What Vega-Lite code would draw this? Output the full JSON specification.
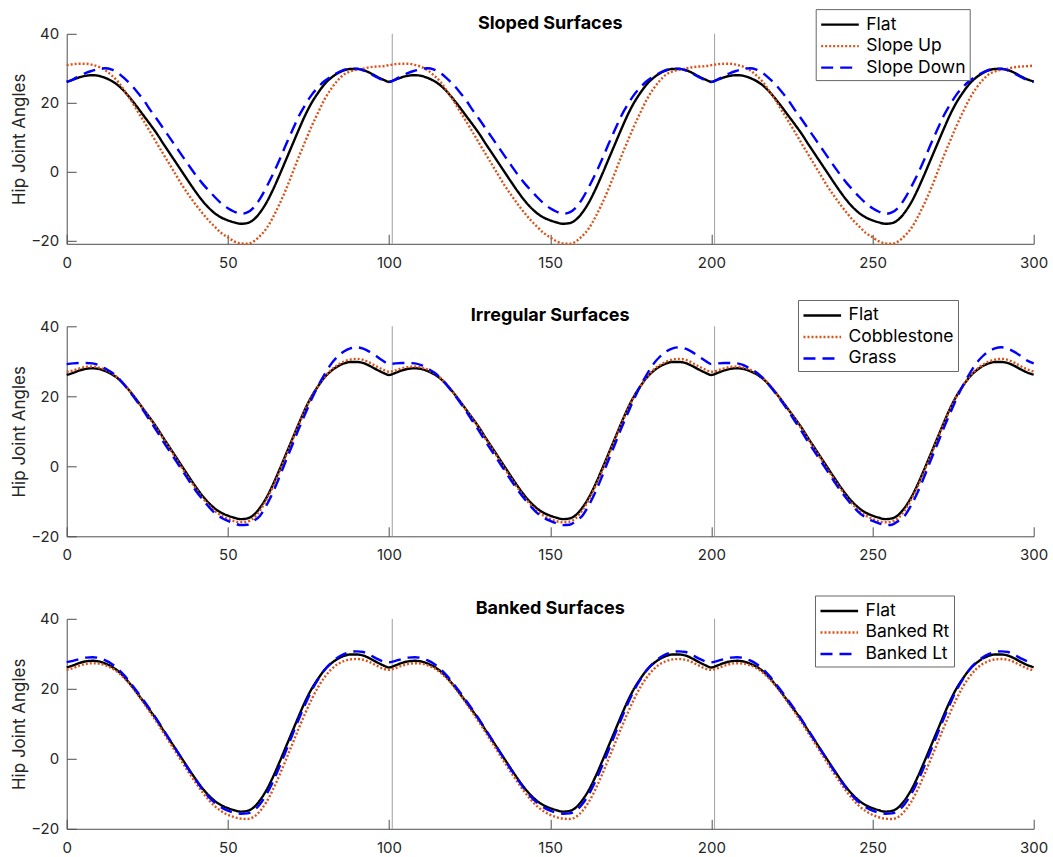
{
"$schema": "https://vega.github.io/schema/vega-lite/v6.json",
"padding": {"left": 10.7, "top": 7.8, "right": 5, "bottom": 5},
"bounds": "flush",
"spacing": 82.5,
"config": {
  "font": "Inter",
  "view": {"stroke": null},
  "axis": {"domainColor": "#4d4d4d", "tickColor": "#4d4d4d", "tickSize": -9.5, "labelFontSize": 15, "labelColor": "#262626", "grid": false, "labelFlush": false, "titleFontSize": 17, "titleFontWeight": "normal", "titleColor": "#262626", "domainWidth": 1, "tickWidth": 1},
  "axisX": {"labelPadding": 21},
  "axisY": {"labelPadding": 17.5, "titleX": -38, "titleBaseline": "bottom"},
  "title": {"fontSize": 18, "fontWeight": "bold", "color": "black", "anchor": "middle", "frame": "group"},
  "legend": {"orient": "none", "symbolType": "M-1.9,0H1.9", "symbolSize": 392, "symbolStrokeWidth": 2, "symbolOffset": 8.8, "labelFontSize": 17.5, "labelColor": "black", "padding": 4, "rowPadding": 1.5, "strokeColor": "#666666", "fillColor": "white", "labelOffset": 14.8, "cornerRadius": 0},
  "line": {"strokeWidth": 2.4, "strokeCap": "butt", "interpolate": "monotone"}
},
"resolve": {"scale": {"color": "independent", "strokeDash": "independent"}, "legend": {"color": "independent", "strokeDash": "independent"}},
"datasets": {
"sloped": [
{"x":0,"Flat":26.1,"Slope Up":30.9,"Slope Down":26.0},
{"x":2,"Flat":26.7,"Slope Up":31.2,"Slope Down":26.8},
{"x":4,"Flat":27.4,"Slope Up":31.3,"Slope Down":27.8},
{"x":6,"Flat":27.85,"Slope Up":31.3,"Slope Down":28.7},
{"x":8,"Flat":28.0,"Slope Up":31.0,"Slope Down":29.3},
{"x":10,"Flat":27.8,"Slope Up":30.4,"Slope Down":29.8},
{"x":12,"Flat":27.2,"Slope Up":29.4,"Slope Down":30.0},
{"x":14,"Flat":26.3,"Slope Up":27.9,"Slope Down":29.6},
{"x":16,"Flat":25.0,"Slope Up":26.0,"Slope Down":28.6},
{"x":18,"Flat":23.2,"Slope Up":23.4,"Slope Down":27.0},
{"x":20,"Flat":21.0,"Slope Up":20.6,"Slope Down":25.2},
{"x":22,"Flat":18.6,"Slope Up":17.5,"Slope Down":23.0},
{"x":24,"Flat":16.1,"Slope Up":14.5,"Slope Down":20.6},
{"x":26,"Flat":13.6,"Slope Up":11.4,"Slope Down":17.8},
{"x":28,"Flat":11.0,"Slope Up":8.2,"Slope Down":15.2},
{"x":30,"Flat":8.1,"Slope Up":5.1,"Slope Down":12.5},
{"x":32,"Flat":5.3,"Slope Up":2.0,"Slope Down":9.8},
{"x":34,"Flat":2.5,"Slope Up":-1.1,"Slope Down":7.1},
{"x":36,"Flat":-0.3,"Slope Up":-4.2,"Slope Down":4.4},
{"x":38,"Flat":-3.1,"Slope Up":-6.9,"Slope Down":1.7},
{"x":40,"Flat":-5.8,"Slope Up":-9.5,"Slope Down":-0.9},
{"x":42,"Flat":-8.3,"Slope Up":-11.9,"Slope Down":-3.3},
{"x":44,"Flat":-10.4,"Slope Up":-14.1,"Slope Down":-5.4},
{"x":46,"Flat":-12.1,"Slope Up":-16.0,"Slope Down":-7.4},
{"x":48,"Flat":-13.3,"Slope Up":-17.8,"Slope Down":-9.2},
{"x":50,"Flat":-14.1,"Slope Up":-19.0,"Slope Down":-10.6},
{"x":52,"Flat":-14.7,"Slope Up":-20.2,"Slope Down":-11.6},
{"x":54,"Flat":-15.1,"Slope Up":-20.8,"Slope Down":-12.2},
{"x":56,"Flat":-14.9,"Slope Up":-20.9,"Slope Down":-11.8},
{"x":58,"Flat":-13.9,"Slope Up":-20.2,"Slope Down":-10.4},
{"x":60,"Flat":-11.8,"Slope Up":-18.6,"Slope Down":-7.8},
{"x":62,"Flat":-8.9,"Slope Up":-16.4,"Slope Down":-4.4},
{"x":64,"Flat":-5.2,"Slope Up":-13.2,"Slope Down":-0.7},
{"x":66,"Flat":-1.0,"Slope Up":-9.4,"Slope Down":3.4},
{"x":68,"Flat":3.4,"Slope Up":-5.2,"Slope Down":7.8},
{"x":70,"Flat":7.8,"Slope Up":-0.5,"Slope Down":12.0},
{"x":72,"Flat":12.2,"Slope Up":4.3,"Slope Down":16.1},
{"x":74,"Flat":16.4,"Slope Up":8.8,"Slope Down":19.4},
{"x":76,"Flat":20.0,"Slope Up":13.2,"Slope Down":22.3},
{"x":78,"Flat":22.9,"Slope Up":17.2,"Slope Down":24.5},
{"x":80,"Flat":25.4,"Slope Up":21.0,"Slope Down":26.3},
{"x":82,"Flat":27.2,"Slope Up":24.0,"Slope Down":27.6},
{"x":84,"Flat":28.5,"Slope Up":26.4,"Slope Down":28.7},
{"x":86,"Flat":29.4,"Slope Up":28.2,"Slope Down":29.5},
{"x":88,"Flat":29.8,"Slope Up":29.1,"Slope Down":29.9},
{"x":90,"Flat":29.8,"Slope Up":29.6,"Slope Down":29.9},
{"x":92,"Flat":29.5,"Slope Up":29.9,"Slope Down":29.4},
{"x":94,"Flat":28.7,"Slope Up":30.3,"Slope Down":28.5},
{"x":96,"Flat":27.7,"Slope Up":30.5,"Slope Down":27.5},
{"x":98,"Flat":26.8,"Slope Up":30.6,"Slope Down":26.6},
{"x":100,"Flat":26.1,"Slope Up":30.9,"Slope Down":26.0},
{"x":102,"Flat":26.7,"Slope Up":31.2,"Slope Down":26.8},
{"x":104,"Flat":27.4,"Slope Up":31.3,"Slope Down":27.8},
{"x":106,"Flat":27.85,"Slope Up":31.3,"Slope Down":28.7},
{"x":108,"Flat":28.0,"Slope Up":31.0,"Slope Down":29.3},
{"x":110,"Flat":27.8,"Slope Up":30.4,"Slope Down":29.8},
{"x":112,"Flat":27.2,"Slope Up":29.4,"Slope Down":30.0},
{"x":114,"Flat":26.3,"Slope Up":27.9,"Slope Down":29.6},
{"x":116,"Flat":25.0,"Slope Up":26.0,"Slope Down":28.6},
{"x":118,"Flat":23.2,"Slope Up":23.4,"Slope Down":27.0},
{"x":120,"Flat":21.0,"Slope Up":20.6,"Slope Down":25.2},
{"x":122,"Flat":18.6,"Slope Up":17.5,"Slope Down":23.0},
{"x":124,"Flat":16.1,"Slope Up":14.5,"Slope Down":20.6},
{"x":126,"Flat":13.6,"Slope Up":11.4,"Slope Down":17.8},
{"x":128,"Flat":11.0,"Slope Up":8.2,"Slope Down":15.2},
{"x":130,"Flat":8.1,"Slope Up":5.1,"Slope Down":12.5},
{"x":132,"Flat":5.3,"Slope Up":2.0,"Slope Down":9.8},
{"x":134,"Flat":2.5,"Slope Up":-1.1,"Slope Down":7.1},
{"x":136,"Flat":-0.3,"Slope Up":-4.2,"Slope Down":4.4},
{"x":138,"Flat":-3.1,"Slope Up":-6.9,"Slope Down":1.7},
{"x":140,"Flat":-5.8,"Slope Up":-9.5,"Slope Down":-0.9},
{"x":142,"Flat":-8.3,"Slope Up":-11.9,"Slope Down":-3.3},
{"x":144,"Flat":-10.4,"Slope Up":-14.1,"Slope Down":-5.4},
{"x":146,"Flat":-12.1,"Slope Up":-16.0,"Slope Down":-7.4},
{"x":148,"Flat":-13.3,"Slope Up":-17.8,"Slope Down":-9.2},
{"x":150,"Flat":-14.1,"Slope Up":-19.0,"Slope Down":-10.6},
{"x":152,"Flat":-14.7,"Slope Up":-20.2,"Slope Down":-11.6},
{"x":154,"Flat":-15.1,"Slope Up":-20.8,"Slope Down":-12.2},
{"x":156,"Flat":-14.9,"Slope Up":-20.9,"Slope Down":-11.8},
{"x":158,"Flat":-13.9,"Slope Up":-20.2,"Slope Down":-10.4},
{"x":160,"Flat":-11.8,"Slope Up":-18.6,"Slope Down":-7.8},
{"x":162,"Flat":-8.9,"Slope Up":-16.4,"Slope Down":-4.4},
{"x":164,"Flat":-5.2,"Slope Up":-13.2,"Slope Down":-0.7},
{"x":166,"Flat":-1.0,"Slope Up":-9.4,"Slope Down":3.4},
{"x":168,"Flat":3.4,"Slope Up":-5.2,"Slope Down":7.8},
{"x":170,"Flat":7.8,"Slope Up":-0.5,"Slope Down":12.0},
{"x":172,"Flat":12.2,"Slope Up":4.3,"Slope Down":16.1},
{"x":174,"Flat":16.4,"Slope Up":8.8,"Slope Down":19.4},
{"x":176,"Flat":20.0,"Slope Up":13.2,"Slope Down":22.3},
{"x":178,"Flat":22.9,"Slope Up":17.2,"Slope Down":24.5},
{"x":180,"Flat":25.4,"Slope Up":21.0,"Slope Down":26.3},
{"x":182,"Flat":27.2,"Slope Up":24.0,"Slope Down":27.6},
{"x":184,"Flat":28.5,"Slope Up":26.4,"Slope Down":28.7},
{"x":186,"Flat":29.4,"Slope Up":28.2,"Slope Down":29.5},
{"x":188,"Flat":29.8,"Slope Up":29.1,"Slope Down":29.9},
{"x":190,"Flat":29.8,"Slope Up":29.6,"Slope Down":29.9},
{"x":192,"Flat":29.5,"Slope Up":29.9,"Slope Down":29.4},
{"x":194,"Flat":28.7,"Slope Up":30.3,"Slope Down":28.5},
{"x":196,"Flat":27.7,"Slope Up":30.5,"Slope Down":27.5},
{"x":198,"Flat":26.8,"Slope Up":30.6,"Slope Down":26.6},
{"x":200,"Flat":26.1,"Slope Up":30.9,"Slope Down":26.0},
{"x":202,"Flat":26.7,"Slope Up":31.2,"Slope Down":26.8},
{"x":204,"Flat":27.4,"Slope Up":31.3,"Slope Down":27.8},
{"x":206,"Flat":27.85,"Slope Up":31.3,"Slope Down":28.7},
{"x":208,"Flat":28.0,"Slope Up":31.0,"Slope Down":29.3},
{"x":210,"Flat":27.8,"Slope Up":30.4,"Slope Down":29.8},
{"x":212,"Flat":27.2,"Slope Up":29.4,"Slope Down":30.0},
{"x":214,"Flat":26.3,"Slope Up":27.9,"Slope Down":29.6},
{"x":216,"Flat":25.0,"Slope Up":26.0,"Slope Down":28.6},
{"x":218,"Flat":23.2,"Slope Up":23.4,"Slope Down":27.0},
{"x":220,"Flat":21.0,"Slope Up":20.6,"Slope Down":25.2},
{"x":222,"Flat":18.6,"Slope Up":17.5,"Slope Down":23.0},
{"x":224,"Flat":16.1,"Slope Up":14.5,"Slope Down":20.6},
{"x":226,"Flat":13.6,"Slope Up":11.4,"Slope Down":17.8},
{"x":228,"Flat":11.0,"Slope Up":8.2,"Slope Down":15.2},
{"x":230,"Flat":8.1,"Slope Up":5.1,"Slope Down":12.5},
{"x":232,"Flat":5.3,"Slope Up":2.0,"Slope Down":9.8},
{"x":234,"Flat":2.5,"Slope Up":-1.1,"Slope Down":7.1},
{"x":236,"Flat":-0.3,"Slope Up":-4.2,"Slope Down":4.4},
{"x":238,"Flat":-3.1,"Slope Up":-6.9,"Slope Down":1.7},
{"x":240,"Flat":-5.8,"Slope Up":-9.5,"Slope Down":-0.9},
{"x":242,"Flat":-8.3,"Slope Up":-11.9,"Slope Down":-3.3},
{"x":244,"Flat":-10.4,"Slope Up":-14.1,"Slope Down":-5.4},
{"x":246,"Flat":-12.1,"Slope Up":-16.0,"Slope Down":-7.4},
{"x":248,"Flat":-13.3,"Slope Up":-17.8,"Slope Down":-9.2},
{"x":250,"Flat":-14.1,"Slope Up":-19.0,"Slope Down":-10.6},
{"x":252,"Flat":-14.7,"Slope Up":-20.2,"Slope Down":-11.6},
{"x":254,"Flat":-15.1,"Slope Up":-20.8,"Slope Down":-12.2},
{"x":256,"Flat":-14.9,"Slope Up":-20.9,"Slope Down":-11.8},
{"x":258,"Flat":-13.9,"Slope Up":-20.2,"Slope Down":-10.4},
{"x":260,"Flat":-11.8,"Slope Up":-18.6,"Slope Down":-7.8},
{"x":262,"Flat":-8.9,"Slope Up":-16.4,"Slope Down":-4.4},
{"x":264,"Flat":-5.2,"Slope Up":-13.2,"Slope Down":-0.7},
{"x":266,"Flat":-1.0,"Slope Up":-9.4,"Slope Down":3.4},
{"x":268,"Flat":3.4,"Slope Up":-5.2,"Slope Down":7.8},
{"x":270,"Flat":7.8,"Slope Up":-0.5,"Slope Down":12.0},
{"x":272,"Flat":12.2,"Slope Up":4.3,"Slope Down":16.1},
{"x":274,"Flat":16.4,"Slope Up":8.8,"Slope Down":19.4},
{"x":276,"Flat":20.0,"Slope Up":13.2,"Slope Down":22.3},
{"x":278,"Flat":22.9,"Slope Up":17.2,"Slope Down":24.5},
{"x":280,"Flat":25.4,"Slope Up":21.0,"Slope Down":26.3},
{"x":282,"Flat":27.2,"Slope Up":24.0,"Slope Down":27.6},
{"x":284,"Flat":28.5,"Slope Up":26.4,"Slope Down":28.7},
{"x":286,"Flat":29.4,"Slope Up":28.2,"Slope Down":29.5},
{"x":288,"Flat":29.8,"Slope Up":29.1,"Slope Down":29.9},
{"x":290,"Flat":29.8,"Slope Up":29.6,"Slope Down":29.9},
{"x":292,"Flat":29.5,"Slope Up":29.9,"Slope Down":29.4},
{"x":294,"Flat":28.7,"Slope Up":30.3,"Slope Down":28.5},
{"x":296,"Flat":27.7,"Slope Up":30.5,"Slope Down":27.5},
{"x":298,"Flat":26.8,"Slope Up":30.6,"Slope Down":26.6},
{"x":300,"Flat":26.2,"Slope Up":30.8,"Slope Down":26.0}
],
"irregular": [
{"x":0,"Flat":26.1,"Cobblestone":27.0,"Grass":29.2},
{"x":2,"Flat":26.7,"Cobblestone":27.4,"Grass":29.4},
{"x":4,"Flat":27.4,"Cobblestone":28.0,"Grass":29.5},
{"x":6,"Flat":27.85,"Cobblestone":28.4,"Grass":29.5},
{"x":8,"Flat":28.0,"Cobblestone":28.5,"Grass":29.4},
{"x":10,"Flat":27.8,"Cobblestone":28.2,"Grass":28.9},
{"x":12,"Flat":27.2,"Cobblestone":27.6,"Grass":27.9},
{"x":14,"Flat":26.3,"Cobblestone":26.6,"Grass":26.8},
{"x":16,"Flat":25.0,"Cobblestone":25.2,"Grass":25.2},
{"x":18,"Flat":23.2,"Cobblestone":23.3,"Grass":23.1},
{"x":20,"Flat":21.0,"Cobblestone":21.0,"Grass":20.8},
{"x":22,"Flat":18.6,"Cobblestone":18.6,"Grass":18.3},
{"x":24,"Flat":16.1,"Cobblestone":16.0,"Grass":15.6},
{"x":26,"Flat":13.6,"Cobblestone":13.4,"Grass":12.8},
{"x":28,"Flat":11.0,"Cobblestone":10.7,"Grass":10.0},
{"x":30,"Flat":8.1,"Cobblestone":7.8,"Grass":7.0},
{"x":32,"Flat":5.3,"Cobblestone":5.0,"Grass":4.2},
{"x":34,"Flat":2.5,"Cobblestone":2.1,"Grass":1.4},
{"x":36,"Flat":-0.3,"Cobblestone":-0.8,"Grass":-1.4},
{"x":38,"Flat":-3.1,"Cobblestone":-3.6,"Grass":-4.2},
{"x":40,"Flat":-5.8,"Cobblestone":-6.3,"Grass":-6.9},
{"x":42,"Flat":-8.3,"Cobblestone":-8.9,"Grass":-9.3},
{"x":44,"Flat":-10.4,"Cobblestone":-11.0,"Grass":-11.5},
{"x":46,"Flat":-12.1,"Cobblestone":-12.8,"Grass":-13.4},
{"x":48,"Flat":-13.3,"Cobblestone":-14.1,"Grass":-14.7},
{"x":50,"Flat":-14.1,"Cobblestone":-15.0,"Grass":-15.6},
{"x":52,"Flat":-14.7,"Cobblestone":-15.7,"Grass":-16.3},
{"x":54,"Flat":-15.1,"Cobblestone":-16.0,"Grass":-16.8},
{"x":56,"Flat":-14.9,"Cobblestone":-15.8,"Grass":-16.7},
{"x":58,"Flat":-13.9,"Cobblestone":-14.8,"Grass":-15.6},
{"x":60,"Flat":-11.8,"Cobblestone":-12.6,"Grass":-14.1},
{"x":62,"Flat":-8.9,"Cobblestone":-9.5,"Grass":-11.1},
{"x":64,"Flat":-5.2,"Cobblestone":-5.8,"Grass":-7.4},
{"x":66,"Flat":-1.0,"Cobblestone":-1.6,"Grass":-3.1},
{"x":68,"Flat":3.4,"Cobblestone":2.9,"Grass":1.6},
{"x":70,"Flat":7.8,"Cobblestone":7.4,"Grass":6.1},
{"x":72,"Flat":12.2,"Cobblestone":11.9,"Grass":10.7},
{"x":74,"Flat":16.4,"Cobblestone":16.1,"Grass":15.0},
{"x":76,"Flat":20.0,"Cobblestone":19.8,"Grass":19.2},
{"x":78,"Flat":22.9,"Cobblestone":22.9,"Grass":23.0},
{"x":80,"Flat":25.4,"Cobblestone":25.5,"Grass":26.3},
{"x":82,"Flat":27.2,"Cobblestone":27.5,"Grass":29.2},
{"x":84,"Flat":28.5,"Cobblestone":28.9,"Grass":31.3},
{"x":86,"Flat":29.4,"Cobblestone":29.9,"Grass":32.8},
{"x":88,"Flat":29.8,"Cobblestone":30.5,"Grass":33.7},
{"x":90,"Flat":29.8,"Cobblestone":30.7,"Grass":34.0},
{"x":92,"Flat":29.5,"Cobblestone":30.4,"Grass":33.6},
{"x":94,"Flat":28.7,"Cobblestone":29.6,"Grass":32.7},
{"x":96,"Flat":27.7,"Cobblestone":28.6,"Grass":31.5},
{"x":98,"Flat":26.8,"Cobblestone":27.7,"Grass":30.2},
{"x":100,"Flat":26.1,"Cobblestone":27.0,"Grass":29.2},
{"x":102,"Flat":26.7,"Cobblestone":27.4,"Grass":29.4},
{"x":104,"Flat":27.4,"Cobblestone":28.0,"Grass":29.5},
{"x":106,"Flat":27.85,"Cobblestone":28.4,"Grass":29.5},
{"x":108,"Flat":28.0,"Cobblestone":28.5,"Grass":29.4},
{"x":110,"Flat":27.8,"Cobblestone":28.2,"Grass":28.9},
{"x":112,"Flat":27.2,"Cobblestone":27.6,"Grass":27.9},
{"x":114,"Flat":26.3,"Cobblestone":26.6,"Grass":26.8},
{"x":116,"Flat":25.0,"Cobblestone":25.2,"Grass":25.2},
{"x":118,"Flat":23.2,"Cobblestone":23.3,"Grass":23.1},
{"x":120,"Flat":21.0,"Cobblestone":21.0,"Grass":20.8},
{"x":122,"Flat":18.6,"Cobblestone":18.6,"Grass":18.3},
{"x":124,"Flat":16.1,"Cobblestone":16.0,"Grass":15.6},
{"x":126,"Flat":13.6,"Cobblestone":13.4,"Grass":12.8},
{"x":128,"Flat":11.0,"Cobblestone":10.7,"Grass":10.0},
{"x":130,"Flat":8.1,"Cobblestone":7.8,"Grass":7.0},
{"x":132,"Flat":5.3,"Cobblestone":5.0,"Grass":4.2},
{"x":134,"Flat":2.5,"Cobblestone":2.1,"Grass":1.4},
{"x":136,"Flat":-0.3,"Cobblestone":-0.8,"Grass":-1.4},
{"x":138,"Flat":-3.1,"Cobblestone":-3.6,"Grass":-4.2},
{"x":140,"Flat":-5.8,"Cobblestone":-6.3,"Grass":-6.9},
{"x":142,"Flat":-8.3,"Cobblestone":-8.9,"Grass":-9.3},
{"x":144,"Flat":-10.4,"Cobblestone":-11.0,"Grass":-11.5},
{"x":146,"Flat":-12.1,"Cobblestone":-12.8,"Grass":-13.4},
{"x":148,"Flat":-13.3,"Cobblestone":-14.1,"Grass":-14.7},
{"x":150,"Flat":-14.1,"Cobblestone":-15.0,"Grass":-15.6},
{"x":152,"Flat":-14.7,"Cobblestone":-15.7,"Grass":-16.3},
{"x":154,"Flat":-15.1,"Cobblestone":-16.0,"Grass":-16.8},
{"x":156,"Flat":-14.9,"Cobblestone":-15.8,"Grass":-16.7},
{"x":158,"Flat":-13.9,"Cobblestone":-14.8,"Grass":-15.6},
{"x":160,"Flat":-11.8,"Cobblestone":-12.6,"Grass":-14.1},
{"x":162,"Flat":-8.9,"Cobblestone":-9.5,"Grass":-11.1},
{"x":164,"Flat":-5.2,"Cobblestone":-5.8,"Grass":-7.4},
{"x":166,"Flat":-1.0,"Cobblestone":-1.6,"Grass":-3.1},
{"x":168,"Flat":3.4,"Cobblestone":2.9,"Grass":1.6},
{"x":170,"Flat":7.8,"Cobblestone":7.4,"Grass":6.1},
{"x":172,"Flat":12.2,"Cobblestone":11.9,"Grass":10.7},
{"x":174,"Flat":16.4,"Cobblestone":16.1,"Grass":15.0},
{"x":176,"Flat":20.0,"Cobblestone":19.8,"Grass":19.2},
{"x":178,"Flat":22.9,"Cobblestone":22.9,"Grass":23.0},
{"x":180,"Flat":25.4,"Cobblestone":25.5,"Grass":26.3},
{"x":182,"Flat":27.2,"Cobblestone":27.5,"Grass":29.2},
{"x":184,"Flat":28.5,"Cobblestone":28.9,"Grass":31.3},
{"x":186,"Flat":29.4,"Cobblestone":29.9,"Grass":32.8},
{"x":188,"Flat":29.8,"Cobblestone":30.5,"Grass":33.7},
{"x":190,"Flat":29.8,"Cobblestone":30.7,"Grass":34.0},
{"x":192,"Flat":29.5,"Cobblestone":30.4,"Grass":33.6},
{"x":194,"Flat":28.7,"Cobblestone":29.6,"Grass":32.7},
{"x":196,"Flat":27.7,"Cobblestone":28.6,"Grass":31.5},
{"x":198,"Flat":26.8,"Cobblestone":27.7,"Grass":30.2},
{"x":200,"Flat":26.1,"Cobblestone":27.0,"Grass":29.2},
{"x":202,"Flat":26.7,"Cobblestone":27.4,"Grass":29.4},
{"x":204,"Flat":27.4,"Cobblestone":28.0,"Grass":29.5},
{"x":206,"Flat":27.85,"Cobblestone":28.4,"Grass":29.5},
{"x":208,"Flat":28.0,"Cobblestone":28.5,"Grass":29.4},
{"x":210,"Flat":27.8,"Cobblestone":28.2,"Grass":28.9},
{"x":212,"Flat":27.2,"Cobblestone":27.6,"Grass":27.9},
{"x":214,"Flat":26.3,"Cobblestone":26.6,"Grass":26.8},
{"x":216,"Flat":25.0,"Cobblestone":25.2,"Grass":25.2},
{"x":218,"Flat":23.2,"Cobblestone":23.3,"Grass":23.1},
{"x":220,"Flat":21.0,"Cobblestone":21.0,"Grass":20.8},
{"x":222,"Flat":18.6,"Cobblestone":18.6,"Grass":18.3},
{"x":224,"Flat":16.1,"Cobblestone":16.0,"Grass":15.6},
{"x":226,"Flat":13.6,"Cobblestone":13.4,"Grass":12.8},
{"x":228,"Flat":11.0,"Cobblestone":10.7,"Grass":10.0},
{"x":230,"Flat":8.1,"Cobblestone":7.8,"Grass":7.0},
{"x":232,"Flat":5.3,"Cobblestone":5.0,"Grass":4.2},
{"x":234,"Flat":2.5,"Cobblestone":2.1,"Grass":1.4},
{"x":236,"Flat":-0.3,"Cobblestone":-0.8,"Grass":-1.4},
{"x":238,"Flat":-3.1,"Cobblestone":-3.6,"Grass":-4.2},
{"x":240,"Flat":-5.8,"Cobblestone":-6.3,"Grass":-6.9},
{"x":242,"Flat":-8.3,"Cobblestone":-8.9,"Grass":-9.3},
{"x":244,"Flat":-10.4,"Cobblestone":-11.0,"Grass":-11.5},
{"x":246,"Flat":-12.1,"Cobblestone":-12.8,"Grass":-13.4},
{"x":248,"Flat":-13.3,"Cobblestone":-14.1,"Grass":-14.7},
{"x":250,"Flat":-14.1,"Cobblestone":-15.0,"Grass":-15.6},
{"x":252,"Flat":-14.7,"Cobblestone":-15.7,"Grass":-16.3},
{"x":254,"Flat":-15.1,"Cobblestone":-16.0,"Grass":-16.8},
{"x":256,"Flat":-14.9,"Cobblestone":-15.8,"Grass":-16.7},
{"x":258,"Flat":-13.9,"Cobblestone":-14.8,"Grass":-15.6},
{"x":260,"Flat":-11.8,"Cobblestone":-12.6,"Grass":-14.1},
{"x":262,"Flat":-8.9,"Cobblestone":-9.5,"Grass":-11.1},
{"x":264,"Flat":-5.2,"Cobblestone":-5.8,"Grass":-7.4},
{"x":266,"Flat":-1.0,"Cobblestone":-1.6,"Grass":-3.1},
{"x":268,"Flat":3.4,"Cobblestone":2.9,"Grass":1.6},
{"x":270,"Flat":7.8,"Cobblestone":7.4,"Grass":6.1},
{"x":272,"Flat":12.2,"Cobblestone":11.9,"Grass":10.7},
{"x":274,"Flat":16.4,"Cobblestone":16.1,"Grass":15.0},
{"x":276,"Flat":20.0,"Cobblestone":19.8,"Grass":19.2},
{"x":278,"Flat":22.9,"Cobblestone":22.9,"Grass":23.0},
{"x":280,"Flat":25.4,"Cobblestone":25.5,"Grass":26.3},
{"x":282,"Flat":27.2,"Cobblestone":27.5,"Grass":29.2},
{"x":284,"Flat":28.5,"Cobblestone":28.9,"Grass":31.3},
{"x":286,"Flat":29.4,"Cobblestone":29.9,"Grass":32.8},
{"x":288,"Flat":29.8,"Cobblestone":30.5,"Grass":33.7},
{"x":290,"Flat":29.8,"Cobblestone":30.7,"Grass":34.0},
{"x":292,"Flat":29.5,"Cobblestone":30.4,"Grass":33.6},
{"x":294,"Flat":28.7,"Cobblestone":29.6,"Grass":32.7},
{"x":296,"Flat":27.7,"Cobblestone":28.6,"Grass":31.5},
{"x":298,"Flat":26.8,"Cobblestone":27.7,"Grass":30.2},
{"x":300,"Flat":26.2,"Cobblestone":27.1,"Grass":29.4}
],
"banked": [
{"x":0,"Flat":26.1,"Banked Rt":25.4,"Banked Lt":27.6},
{"x":2,"Flat":26.7,"Banked Rt":25.9,"Banked Lt":28.0},
{"x":4,"Flat":27.4,"Banked Rt":26.6,"Banked Lt":28.5},
{"x":6,"Flat":27.85,"Banked Rt":27.1,"Banked Lt":28.9},
{"x":8,"Flat":28.0,"Banked Rt":27.3,"Banked Lt":29.0},
{"x":10,"Flat":27.8,"Banked Rt":27.2,"Banked Lt":28.8},
{"x":12,"Flat":27.2,"Banked Rt":26.7,"Banked Lt":28.1},
{"x":14,"Flat":26.3,"Banked Rt":25.9,"Banked Lt":27.1},
{"x":16,"Flat":25.0,"Banked Rt":24.6,"Banked Lt":25.6},
{"x":18,"Flat":23.2,"Banked Rt":22.9,"Banked Lt":23.7},
{"x":20,"Flat":21.0,"Banked Rt":20.8,"Banked Lt":21.4},
{"x":22,"Flat":18.6,"Banked Rt":18.4,"Banked Lt":19.0},
{"x":24,"Flat":16.1,"Banked Rt":15.8,"Banked Lt":16.5},
{"x":26,"Flat":13.6,"Banked Rt":13.1,"Banked Lt":13.9},
{"x":28,"Flat":11.0,"Banked Rt":10.4,"Banked Lt":11.2},
{"x":30,"Flat":8.1,"Banked Rt":7.5,"Banked Lt":8.3},
{"x":32,"Flat":5.3,"Banked Rt":4.6,"Banked Lt":5.4},
{"x":34,"Flat":2.5,"Banked Rt":1.7,"Banked Lt":2.5},
{"x":36,"Flat":-0.3,"Banked Rt":-1.2,"Banked Lt":-0.4},
{"x":38,"Flat":-3.1,"Banked Rt":-4.1,"Banked Lt":-3.3},
{"x":40,"Flat":-5.8,"Banked Rt":-6.8,"Banked Lt":-6.0},
{"x":42,"Flat":-8.3,"Banked Rt":-9.4,"Banked Lt":-8.6},
{"x":44,"Flat":-10.4,"Banked Rt":-11.7,"Banked Lt":-10.8},
{"x":46,"Flat":-12.1,"Banked Rt":-13.6,"Banked Lt":-12.6},
{"x":48,"Flat":-13.3,"Banked Rt":-15.0,"Banked Lt":-13.9},
{"x":50,"Flat":-14.1,"Banked Rt":-16.0,"Banked Lt":-14.8},
{"x":52,"Flat":-14.7,"Banked Rt":-16.7,"Banked Lt":-15.4},
{"x":54,"Flat":-15.1,"Banked Rt":-17.1,"Banked Lt":-15.7},
{"x":56,"Flat":-14.9,"Banked Rt":-17.2,"Banked Lt":-15.6},
{"x":58,"Flat":-13.9,"Banked Rt":-16.6,"Banked Lt":-14.8},
{"x":60,"Flat":-11.8,"Banked Rt":-14.9,"Banked Lt":-12.9},
{"x":62,"Flat":-8.9,"Banked Rt":-12.3,"Banked Lt":-10.1},
{"x":64,"Flat":-5.2,"Banked Rt":-8.8,"Banked Lt":-6.5},
{"x":66,"Flat":-1.0,"Banked Rt":-4.7,"Banked Lt":-2.3},
{"x":68,"Flat":3.4,"Banked Rt":-0.3,"Banked Lt":2.2},
{"x":70,"Flat":7.8,"Banked Rt":4.2,"Banked Lt":6.8},
{"x":72,"Flat":12.2,"Banked Rt":8.7,"Banked Lt":11.3},
{"x":74,"Flat":16.4,"Banked Rt":13.0,"Banked Lt":15.6},
{"x":76,"Flat":20.0,"Banked Rt":17.0,"Banked Lt":19.5},
{"x":78,"Flat":22.9,"Banked Rt":20.5,"Banked Lt":22.7},
{"x":80,"Flat":25.4,"Banked Rt":23.3,"Banked Lt":25.4},
{"x":82,"Flat":27.2,"Banked Rt":25.5,"Banked Lt":27.4},
{"x":84,"Flat":28.5,"Banked Rt":27.0,"Banked Lt":28.9},
{"x":86,"Flat":29.4,"Banked Rt":27.9,"Banked Lt":29.9},
{"x":88,"Flat":29.8,"Banked Rt":28.4,"Banked Lt":30.5},
{"x":90,"Flat":29.8,"Banked Rt":28.5,"Banked Lt":30.7},
{"x":92,"Flat":29.5,"Banked Rt":28.3,"Banked Lt":30.5},
{"x":94,"Flat":28.7,"Banked Rt":27.6,"Banked Lt":29.7},
{"x":96,"Flat":27.7,"Banked Rt":26.7,"Banked Lt":28.7},
{"x":98,"Flat":26.8,"Banked Rt":25.8,"Banked Lt":27.9},
{"x":100,"Flat":26.1,"Banked Rt":25.4,"Banked Lt":27.6},
{"x":102,"Flat":26.7,"Banked Rt":25.9,"Banked Lt":28.0},
{"x":104,"Flat":27.4,"Banked Rt":26.6,"Banked Lt":28.5},
{"x":106,"Flat":27.85,"Banked Rt":27.1,"Banked Lt":28.9},
{"x":108,"Flat":28.0,"Banked Rt":27.3,"Banked Lt":29.0},
{"x":110,"Flat":27.8,"Banked Rt":27.2,"Banked Lt":28.8},
{"x":112,"Flat":27.2,"Banked Rt":26.7,"Banked Lt":28.1},
{"x":114,"Flat":26.3,"Banked Rt":25.9,"Banked Lt":27.1},
{"x":116,"Flat":25.0,"Banked Rt":24.6,"Banked Lt":25.6},
{"x":118,"Flat":23.2,"Banked Rt":22.9,"Banked Lt":23.7},
{"x":120,"Flat":21.0,"Banked Rt":20.8,"Banked Lt":21.4},
{"x":122,"Flat":18.6,"Banked Rt":18.4,"Banked Lt":19.0},
{"x":124,"Flat":16.1,"Banked Rt":15.8,"Banked Lt":16.5},
{"x":126,"Flat":13.6,"Banked Rt":13.1,"Banked Lt":13.9},
{"x":128,"Flat":11.0,"Banked Rt":10.4,"Banked Lt":11.2},
{"x":130,"Flat":8.1,"Banked Rt":7.5,"Banked Lt":8.3},
{"x":132,"Flat":5.3,"Banked Rt":4.6,"Banked Lt":5.4},
{"x":134,"Flat":2.5,"Banked Rt":1.7,"Banked Lt":2.5},
{"x":136,"Flat":-0.3,"Banked Rt":-1.2,"Banked Lt":-0.4},
{"x":138,"Flat":-3.1,"Banked Rt":-4.1,"Banked Lt":-3.3},
{"x":140,"Flat":-5.8,"Banked Rt":-6.8,"Banked Lt":-6.0},
{"x":142,"Flat":-8.3,"Banked Rt":-9.4,"Banked Lt":-8.6},
{"x":144,"Flat":-10.4,"Banked Rt":-11.7,"Banked Lt":-10.8},
{"x":146,"Flat":-12.1,"Banked Rt":-13.6,"Banked Lt":-12.6},
{"x":148,"Flat":-13.3,"Banked Rt":-15.0,"Banked Lt":-13.9},
{"x":150,"Flat":-14.1,"Banked Rt":-16.0,"Banked Lt":-14.8},
{"x":152,"Flat":-14.7,"Banked Rt":-16.7,"Banked Lt":-15.4},
{"x":154,"Flat":-15.1,"Banked Rt":-17.1,"Banked Lt":-15.7},
{"x":156,"Flat":-14.9,"Banked Rt":-17.2,"Banked Lt":-15.6},
{"x":158,"Flat":-13.9,"Banked Rt":-16.6,"Banked Lt":-14.8},
{"x":160,"Flat":-11.8,"Banked Rt":-14.9,"Banked Lt":-12.9},
{"x":162,"Flat":-8.9,"Banked Rt":-12.3,"Banked Lt":-10.1},
{"x":164,"Flat":-5.2,"Banked Rt":-8.8,"Banked Lt":-6.5},
{"x":166,"Flat":-1.0,"Banked Rt":-4.7,"Banked Lt":-2.3},
{"x":168,"Flat":3.4,"Banked Rt":-0.3,"Banked Lt":2.2},
{"x":170,"Flat":7.8,"Banked Rt":4.2,"Banked Lt":6.8},
{"x":172,"Flat":12.2,"Banked Rt":8.7,"Banked Lt":11.3},
{"x":174,"Flat":16.4,"Banked Rt":13.0,"Banked Lt":15.6},
{"x":176,"Flat":20.0,"Banked Rt":17.0,"Banked Lt":19.5},
{"x":178,"Flat":22.9,"Banked Rt":20.5,"Banked Lt":22.7},
{"x":180,"Flat":25.4,"Banked Rt":23.3,"Banked Lt":25.4},
{"x":182,"Flat":27.2,"Banked Rt":25.5,"Banked Lt":27.4},
{"x":184,"Flat":28.5,"Banked Rt":27.0,"Banked Lt":28.9},
{"x":186,"Flat":29.4,"Banked Rt":27.9,"Banked Lt":29.9},
{"x":188,"Flat":29.8,"Banked Rt":28.4,"Banked Lt":30.5},
{"x":190,"Flat":29.8,"Banked Rt":28.5,"Banked Lt":30.7},
{"x":192,"Flat":29.5,"Banked Rt":28.3,"Banked Lt":30.5},
{"x":194,"Flat":28.7,"Banked Rt":27.6,"Banked Lt":29.7},
{"x":196,"Flat":27.7,"Banked Rt":26.7,"Banked Lt":28.7},
{"x":198,"Flat":26.8,"Banked Rt":25.8,"Banked Lt":27.9},
{"x":200,"Flat":26.1,"Banked Rt":25.4,"Banked Lt":27.6},
{"x":202,"Flat":26.7,"Banked Rt":25.9,"Banked Lt":28.0},
{"x":204,"Flat":27.4,"Banked Rt":26.6,"Banked Lt":28.5},
{"x":206,"Flat":27.85,"Banked Rt":27.1,"Banked Lt":28.9},
{"x":208,"Flat":28.0,"Banked Rt":27.3,"Banked Lt":29.0},
{"x":210,"Flat":27.8,"Banked Rt":27.2,"Banked Lt":28.8},
{"x":212,"Flat":27.2,"Banked Rt":26.7,"Banked Lt":28.1},
{"x":214,"Flat":26.3,"Banked Rt":25.9,"Banked Lt":27.1},
{"x":216,"Flat":25.0,"Banked Rt":24.6,"Banked Lt":25.6},
{"x":218,"Flat":23.2,"Banked Rt":22.9,"Banked Lt":23.7},
{"x":220,"Flat":21.0,"Banked Rt":20.8,"Banked Lt":21.4},
{"x":222,"Flat":18.6,"Banked Rt":18.4,"Banked Lt":19.0},
{"x":224,"Flat":16.1,"Banked Rt":15.8,"Banked Lt":16.5},
{"x":226,"Flat":13.6,"Banked Rt":13.1,"Banked Lt":13.9},
{"x":228,"Flat":11.0,"Banked Rt":10.4,"Banked Lt":11.2},
{"x":230,"Flat":8.1,"Banked Rt":7.5,"Banked Lt":8.3},
{"x":232,"Flat":5.3,"Banked Rt":4.6,"Banked Lt":5.4},
{"x":234,"Flat":2.5,"Banked Rt":1.7,"Banked Lt":2.5},
{"x":236,"Flat":-0.3,"Banked Rt":-1.2,"Banked Lt":-0.4},
{"x":238,"Flat":-3.1,"Banked Rt":-4.1,"Banked Lt":-3.3},
{"x":240,"Flat":-5.8,"Banked Rt":-6.8,"Banked Lt":-6.0},
{"x":242,"Flat":-8.3,"Banked Rt":-9.4,"Banked Lt":-8.6},
{"x":244,"Flat":-10.4,"Banked Rt":-11.7,"Banked Lt":-10.8},
{"x":246,"Flat":-12.1,"Banked Rt":-13.6,"Banked Lt":-12.6},
{"x":248,"Flat":-13.3,"Banked Rt":-15.0,"Banked Lt":-13.9},
{"x":250,"Flat":-14.1,"Banked Rt":-16.0,"Banked Lt":-14.8},
{"x":252,"Flat":-14.7,"Banked Rt":-16.7,"Banked Lt":-15.4},
{"x":254,"Flat":-15.1,"Banked Rt":-17.1,"Banked Lt":-15.7},
{"x":256,"Flat":-14.9,"Banked Rt":-17.2,"Banked Lt":-15.6},
{"x":258,"Flat":-13.9,"Banked Rt":-16.6,"Banked Lt":-14.8},
{"x":260,"Flat":-11.8,"Banked Rt":-14.9,"Banked Lt":-12.9},
{"x":262,"Flat":-8.9,"Banked Rt":-12.3,"Banked Lt":-10.1},
{"x":264,"Flat":-5.2,"Banked Rt":-8.8,"Banked Lt":-6.5},
{"x":266,"Flat":-1.0,"Banked Rt":-4.7,"Banked Lt":-2.3},
{"x":268,"Flat":3.4,"Banked Rt":-0.3,"Banked Lt":2.2},
{"x":270,"Flat":7.8,"Banked Rt":4.2,"Banked Lt":6.8},
{"x":272,"Flat":12.2,"Banked Rt":8.7,"Banked Lt":11.3},
{"x":274,"Flat":16.4,"Banked Rt":13.0,"Banked Lt":15.6},
{"x":276,"Flat":20.0,"Banked Rt":17.0,"Banked Lt":19.5},
{"x":278,"Flat":22.9,"Banked Rt":20.5,"Banked Lt":22.7},
{"x":280,"Flat":25.4,"Banked Rt":23.3,"Banked Lt":25.4},
{"x":282,"Flat":27.2,"Banked Rt":25.5,"Banked Lt":27.4},
{"x":284,"Flat":28.5,"Banked Rt":27.0,"Banked Lt":28.9},
{"x":286,"Flat":29.4,"Banked Rt":27.9,"Banked Lt":29.9},
{"x":288,"Flat":29.8,"Banked Rt":28.4,"Banked Lt":30.5},
{"x":290,"Flat":29.8,"Banked Rt":28.5,"Banked Lt":30.7},
{"x":292,"Flat":29.5,"Banked Rt":28.3,"Banked Lt":30.5},
{"x":294,"Flat":28.7,"Banked Rt":27.6,"Banked Lt":29.7},
{"x":296,"Flat":27.7,"Banked Rt":26.7,"Banked Lt":28.7},
{"x":298,"Flat":26.8,"Banked Rt":25.8,"Banked Lt":27.9},
{"x":300,"Flat":26.2,"Banked Rt":25.3,"Banked Lt":27.6}
],
"vlines": [{"x":101},{"x":201}]
},
"vconcat": [
{
  "width": 967, "height": 210,
  "title": {"text": "Sloped Surfaces", "offset": -24.8},
  "layer": [
    {"data": {"name": "vlines"}, "mark": {"type": "rule", "color": "#a0a0a0", "strokeWidth": 1},
     "encoding": {"x": {"field": "x", "type": "quantitative", "title": null}}},
    {"data": {"name": "sloped"},
     "transform": [{"fold": ["Flat", "Slope Up", "Slope Down"], "as": ["series", "angle"]}],
     "mark": {"type": "line"},
     "encoding": {
       "x": {"field": "x", "type": "quantitative", "title": null, "scale": {"domain": [0, 300], "nice": false}, "axis": {"values": [0, 50, 100, 150, 200, 250, 300]}},
       "y": {"field": "angle", "type": "quantitative", "title": "Hip Joint Angles", "scale": {"domain": [-20.9, 40], "nice": false, "zero": false}, "axis": {"values": [-20, 0, 20, 40]}},
       "color": {"field": "series", "type": "nominal", "scale": {"domain": ["Flat", "Slope Up", "Slope Down"], "range": ["#000000", "#D95319", "#0000FF"]}, "legend": {"title": null, "legendX": 749, "legendY": -24.7}},
       "strokeDash": {"field": "series", "type": "nominal", "scale": {"domain": ["Flat", "Slope Up", "Slope Down"], "range": [[1, 0], [2, 2], [12, 7]]}, "legend": {"title": null, "legendX": 749, "legendY": -24.7}}
     }}
  ]
},
{
  "width": 967, "height": 210,
  "title": {"text": "Irregular Surfaces", "offset": -25.3},
  "layer": [
    {"data": {"name": "vlines"}, "mark": {"type": "rule", "color": "#a0a0a0", "strokeWidth": 1},
     "encoding": {"x": {"field": "x", "type": "quantitative", "title": null}}},
    {"data": {"name": "irregular"},
     "transform": [{"fold": ["Flat", "Cobblestone", "Grass"], "as": ["series", "angle"]}],
     "mark": {"type": "line"},
     "encoding": {
       "x": {"field": "x", "type": "quantitative", "title": null, "scale": {"domain": [0, 300], "nice": false}, "axis": {"values": [0, 50, 100, 150, 200, 250, 300]}},
       "y": {"field": "angle", "type": "quantitative", "title": "Hip Joint Angles", "scale": {"domain": [-20, 40], "nice": false, "zero": false}, "axis": {"values": [-20, 0, 20, 40]}},
       "color": {"field": "series", "type": "nominal", "scale": {"domain": ["Flat", "Cobblestone", "Grass"], "range": ["#000000", "#D95319", "#0000FF"]}, "legend": {"title": null, "legendX": 731.3, "legendY": -26.3}},
       "strokeDash": {"field": "series", "type": "nominal", "scale": {"domain": ["Flat", "Cobblestone", "Grass"], "range": [[1, 0], [2, 2], [12, 7]]}, "legend": {"title": null, "legendX": 731.3, "legendY": -26.3}}
     }}
  ]
},
{
  "width": 967, "height": 210,
  "title": {"text": "Banked Surfaces", "offset": -23.3},
  "layer": [
    {"data": {"name": "vlines"}, "mark": {"type": "rule", "color": "#a0a0a0", "strokeWidth": 1},
     "encoding": {"x": {"field": "x", "type": "quantitative", "title": null}}},
    {"data": {"name": "banked"},
     "transform": [{"fold": ["Flat", "Banked Rt", "Banked Lt"], "as": ["series", "angle"]}],
     "mark": {"type": "line"},
     "encoding": {
       "x": {"field": "x", "type": "quantitative", "title": null, "scale": {"domain": [0, 300], "nice": false}, "axis": {"values": [0, 50, 100, 150, 200, 250, 300]}},
       "y": {"field": "angle", "type": "quantitative", "title": "Hip Joint Angles", "scale": {"domain": [-20, 40], "nice": false, "zero": false}, "axis": {"values": [-20, 0, 20, 40]}},
       "color": {"field": "series", "type": "nominal", "scale": {"domain": ["Flat", "Banked Rt", "Banked Lt"], "range": ["#000000", "#D95319", "#0000FF"]}, "legend": {"title": null, "legendX": 748.3, "legendY": -23.3}},
       "strokeDash": {"field": "series", "type": "nominal", "scale": {"domain": ["Flat", "Banked Rt", "Banked Lt"], "range": [[1, 0], [2, 2], [12, 7]]}, "legend": {"title": null, "legendX": 748.3, "legendY": -23.3}}
     }}
  ]
}
]
}
